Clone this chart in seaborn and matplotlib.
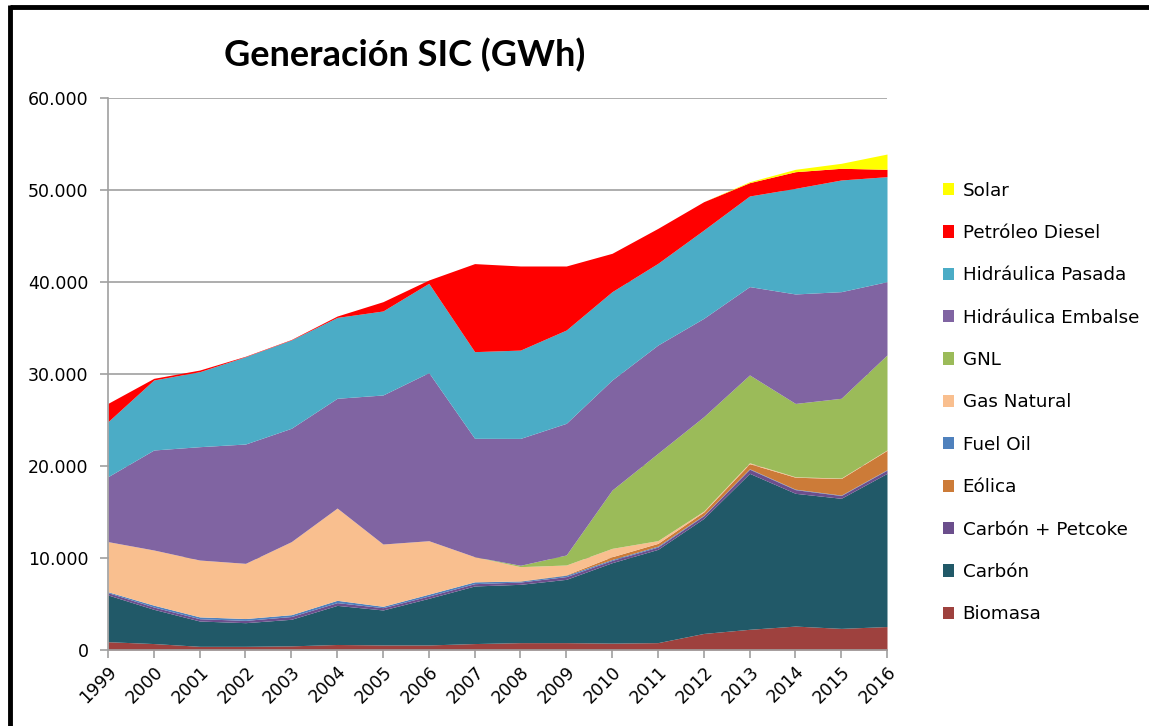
import matplotlib
matplotlib.use("Agg")
from matplotlib import pyplot as plt
from matplotlib.ticker import FuncFormatter, MultipleLocator
from matplotlib.lines import Line2D
import seaborn as sns

years = list(range(1999, 2017))

# GWh per source (stack order bottom -> top)
biomasa = [900, 700, 400, 400, 450, 600, 550, 550, 700, 800, 800, 750, 800, 1800, 2250, 2600, 2350, 2550]
carbon = [5080, 3720, 2750, 2570, 2890, 4250, 3800, 5070, 6260, 6340, 6880, 8740, 10140, 12500, 16950, 14430, 14140, 16650]
carbon_petcoke = [250, 250, 250, 250, 300, 300, 250, 250, 250, 250, 300, 250, 250, 300, 450, 400, 300, 350]
eolica = [0, 0, 0, 0, 0, 0, 0, 0, 0, 30, 50, 300, 300, 350, 550, 1300, 1800, 2100]
fuel_oil = [100, 200, 200, 200, 200, 250, 150, 200, 200, 100, 150, 100, 100, 50, 50, 50, 50, 50]
gas_natural = [5450, 6000, 6180, 6000, 7940, 10030, 6770, 5810, 2730, 1540, 1060, 910, 300, 100, 100, 50, 50, 50]
gnl = [0, 0, 0, 0, 0, 0, 0, 0, 0, 150, 1090, 6340, 9490, 10260, 9550, 7970, 8670, 10320]
hid_embalse = [7060, 10870, 12320, 12970, 12320, 11930, 16200, 18270, 12870, 13790, 14310, 11960, 11770, 10690, 9600, 11900, 11590, 7970]
hid_pasada = [5980, 7610, 8150, 9490, 9600, 8790, 9130, 9710, 9420, 9600, 10140, 9600, 8880, 9600, 9850, 11480, 12140, 11410]
diesel = [1990, 180, 180, 50, 50, 150, 1010, 360, 9570, 9140, 6960, 4170, 3800, 3080, 1450, 1810, 1270, 800]
solar = [0, 0, 0, 0, 0, 0, 0, 0, 0, 0, 0, 0, 0, 0, 100, 260, 540, 1660]

series = [biomasa, carbon, carbon_petcoke, fuel_oil, eolica, gas_natural, gnl,
          hid_embalse, hid_pasada, diesel, solar]
labels = ["Biomasa", "Carbón", "Carbón + Petcoke", "Fuel Oil", "Eólica", "Gas Natural", "GNL",
          "Hidráulica Embalse", "Hidráulica Pasada", "Petróleo Diesel", "Solar"]
colors = ["#9E413E", "#215968", "#6B4E8C", "#4F81BD", "#CC7B38", "#F9BF8F", "#9BBB59",
          "#8064A2", "#4BACC6", "#FF0000", "#FFFF00"]
legend_order = ["Solar", "Petróleo Diesel", "Hidráulica Pasada", "Hidráulica Embalse", "GNL",
                "Gas Natural", "Fuel Oil", "Eólica", "Carbón + Petcoke", "Carbón", "Biomasa"]

sns.set_theme(style="white")
plt.rcParams["font.family"] = ["DejaVu Sans"]
plt.rcParams["text.color"] = "black"

fig = plt.figure(figsize=(11.49, 7.26), dpi=100)
ax = fig.add_axes([108 / 1149, 76 / 726, 779 / 1149, 552 / 726])

polys = ax.stackplot(years, *series, colors=colors, labels=labels, linewidth=0)

ax.set_xlim(1999, 2016)
ax.set_ylim(0, 60000)
ax.yaxis.set_major_locator(MultipleLocator(10000))
ax.yaxis.set_major_formatter(FuncFormatter(lambda v, p: f"{int(v):,}".replace(",", ".")))
ax.set_xticks(years)
ax.set_xticklabels([str(y) for y in years], rotation=45, ha="right", rotation_mode="anchor")
ax.grid(axis="y", color="#A0A0A0", linewidth=1.2)
ax.set_axisbelow(True)
for side in ["top", "right"]:
    ax.spines[side].set_visible(False)
for side in ["left", "bottom"]:
    ax.spines[side].set_color("#A0A0A0")
    ax.spines[side].set_linewidth(1.2)
ax.spines["bottom"].set_zorder(5)
ax.tick_params(axis="both", which="major", direction="out", length=6, width=1.2,
               color="#A0A0A0", labelsize=12.5, labelcolor="black", pad=3,
               bottom=True, left=True)
ax.tick_params(axis="y", pad=8)

# legend, top entry first
by_label = dict(zip(labels, polys))
leg = fig.legend([by_label[l] for l in legend_order], legend_order,
                 loc="upper left", bbox_to_anchor=(926 / 1149, 1 - 165 / 726),
                 frameon=False, fontsize=13.2, handlelength=0.65, handleheight=0.65,
                 handletextpad=0.45, labelspacing=1.33)

fig.text(405 / 1149, 1 - 55 / 726, "Generación SIC (GWh)", ha="center", va="center",
         fontsize=26, fontweight="bold", color="black", family=["Lato", "DejaVu Sans"])

# black frame on top and left edges
fig.add_artist(Line2D([10 / 1149, 1], [1 - 7 / 726, 1 - 7 / 726], color="black",
                      linewidth=3.5, solid_capstyle="butt"))
fig.add_artist(Line2D([10 / 1149, 10 / 1149], [0, 1 - 5.3 / 726], color="black",
                      linewidth=3.5, solid_capstyle="butt"))

fig.savefig("out.png", dpi=100)
